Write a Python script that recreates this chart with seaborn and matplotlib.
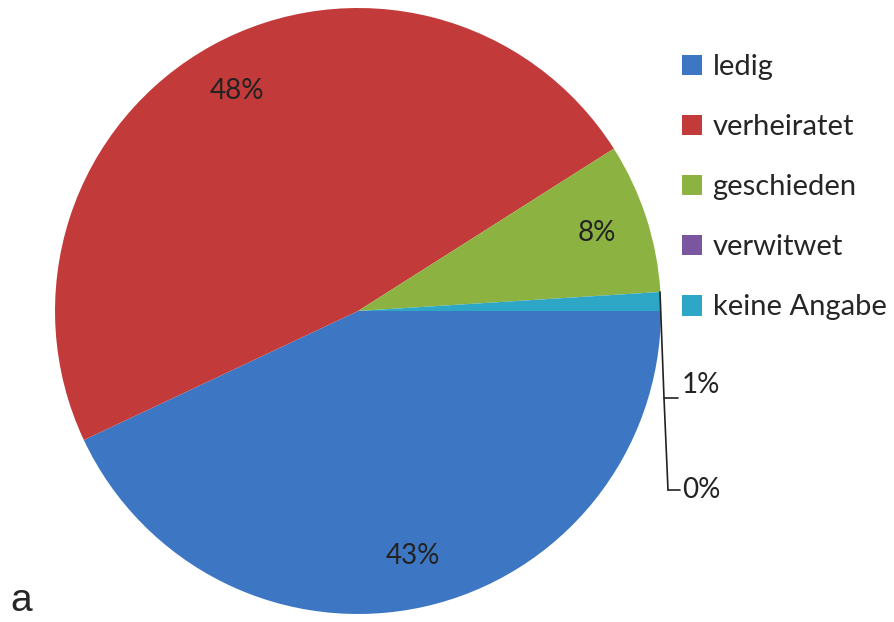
import matplotlib
matplotlib.use("Agg")
import numpy as np
import matplotlib.pyplot as plt
import seaborn as sns

sns.set_theme(style="white")
plt.rcParams['font.family'] = ['Lato', 'DejaVu Sans']

# Daten
categories = ["ledig", "verheiratet", "geschieden", "verwitwet", "keine Angabe"]
values = [43, 48, 8, 0, 1]
pct_labels = ["43%", "48%", "8%", "0%", "1%"]
colors = ["#3D77C3", "#C23B3A", "#8CB342", "#7A55A0", "#2EA7C6"]

W, H = 895, 622
fig = plt.figure(figsize=(W / 100, H / 100), dpi=100)

# pie centre (358, 311) px, radius 303 px
cx, cy, r = 358, 311, 303
ax = fig.add_axes([(cx - r) / W, (H - cy - r) / H, 2 * r / W, 2 * r / H])

wedges, _ = ax.pie(values, colors=colors, startangle=0, counterclock=False,
                   radius=1.0, wedgeprops=dict(linewidth=0))

# percentage labels for the big slices
for w, lab, v in zip(wedges, pct_labels, values):
    if v < 5:
        continue
    ang = np.deg2rad((w.theta1 + w.theta2) / 2)
    ax.text(0.83 * np.cos(ang), 0.83 * np.sin(ang), lab, ha="center", va="center",
            fontsize=20, color="#222222")

ax.set_xlim(-1, 1)
ax.set_ylim(-1, 1)
ax.set_aspect("equal")
ax.axis("off")

# leader lines for the small slices (figure pixel coords)
def px(x, y):
    return x / W, 1 - y / H

x0, y0 = px(660, 292)
x1, y1 = px(664, 398)
x2, y2 = px(668, 490)
fig.add_artist(plt.Line2D([x0, x1, x2], [y0, y1, y2], color="#222222", lw=1.2,
                          transform=fig.transFigure))
fig.add_artist(plt.Line2D([x1, px(678, 398)[0]], [y1, y1], color="#222222", lw=1.2,
                          transform=fig.transFigure))
fig.add_artist(plt.Line2D([x2, px(680, 490)[0]], [y2, y2], color="#222222", lw=1.2,
                          transform=fig.transFigure))
tx, ty = px(682, 385)
fig.text(tx, ty, pct_labels[4], fontsize=20, va="center", ha="left", color="#222222")
tx, ty = px(682, 490)
fig.text(tx, ty, pct_labels[3], fontsize=20, va="center", ha="left", color="#222222")

# legend
lx, ly = px(682, 54)
fig.legend(wedges, categories, loc="upper left", bbox_to_anchor=(lx, ly),
           frameon=False, fontsize=21, handlelength=0.7, handleheight=0.7,
           handletextpad=0.35, labelspacing=1.17, borderaxespad=0, borderpad=0)

tx, ty = px(10, 611)
fig.text(tx, ty, "a", fontsize=28, family="Liberation Sans", va="baseline", ha="left")

fig.savefig("out.png", dpi=100)
